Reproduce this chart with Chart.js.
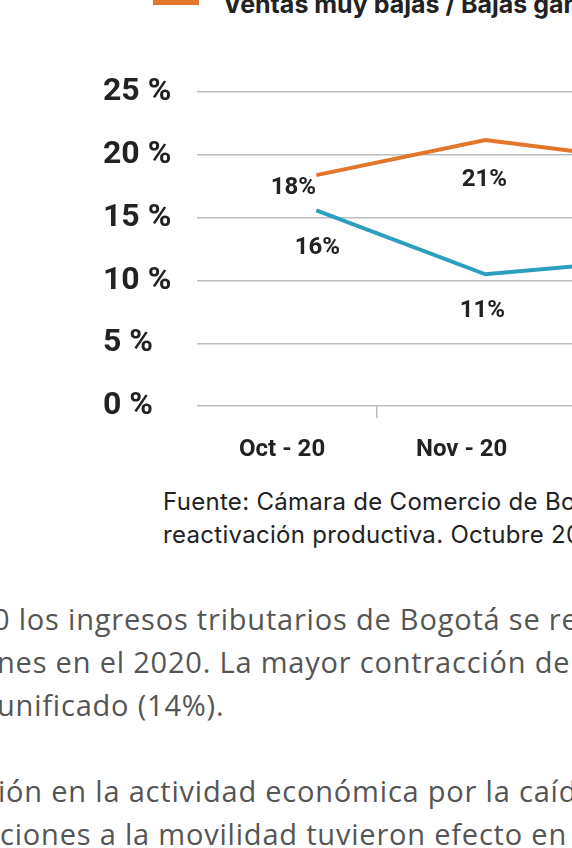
<!DOCTYPE html>
<html lang="es">
<head>
<meta charset="utf-8">
<title>Ventas muy bajas</title>
<script src="https://cdn.jsdelivr.net/npm/chart.js"></script>
<style>
  html, body { margin: 0; padding: 0; }
  body { width: 572px; height: 848px; overflow: hidden; position: relative; background: #fff; font-family: Roboto, sans-serif; }
  .leyenda { position: absolute; left: 153px; top: -8px; white-space: nowrap; }
  .leyenda .caja { position: absolute; left: 0; top: 1px; width: 46px; height: 12px; background: #e3762a; }
  .leyenda .txt { position: absolute; left: 70px; top: 0; font: bold 25px/25px Inter, sans-serif; color: #222; }
  #marco { position: absolute; left: 103px; top: 60px; width: 633px; height: 421px; }
  .fuente { position: absolute; left: 163px; top: 485px; font: 24px/33px Inter, sans-serif; letter-spacing: 0.3px; color: #222; white-space: nowrap; }
  .parrafo { position: absolute; left: 0; top: 597px; font: 29px/43px "Open Sans", sans-serif; letter-spacing: 0.8px; color: #555; white-space: nowrap; }
  .parrafo div { height: 43px; }
</style>
</head>
<body>
<div class="leyenda"><span class="caja"></span><span class="txt">Ventas muy bajas / Bajas ganancias</span></div>
<div id="marco"><canvas id="grafico"></canvas></div>
<div class="fuente">Fuente: Cámara de Comercio de Bogotá. Encuesta de<br>reactivación productiva. Octubre 2020.</div>
<div class="parrafo">
  <div style="margin-left:-7px">0 los ingresos tributarios de Bogotá se redujeron</div>
  <div style="margin-left:-3px">nes en el 2020. La mayor contracción del recaudo</div>
  <div style="margin-left:-3px">unificado (14%).</div>
  <div></div>
  <div style="margin-left:-2px">ión en la actividad económica por la caída</div>
  <div style="margin-left:0">ciones a la movilidad tuvieron efecto en el</div>
</div>
<script>
const meses = ['Oct - 20', 'Nov - 20', 'Dic - 20'];
const ventasMuyBajas = [18.4, 21.2, 19.5];
const serieAzul = [15.6, 10.5, 11.7];
const marcasY = [0, 5, 10, 15, 20, 25];

const naranja = '#e3762a';
const azul = '#2c9ebe';

// desplazamiento de cada etiqueta respecto a su punto
const desplaz = [
  [[-23, 13], [-1, 40], [-5, 40]],
  [[1, 38], [-3, 37], [0, 37]]
];

const etiquetas = {
  id: 'etiquetas',
  afterDatasetsDraw(chart) {
    const ctx = chart.ctx;
    ctx.save();
    ctx.font = 'bold 24px Roboto';
    ctx.fillStyle = '#222';
    ctx.textAlign = 'center';
    ctx.textBaseline = 'middle';
    chart.data.datasets.forEach((ds, d) => {
      chart.getDatasetMeta(d).data.forEach((pt, i) => {
        const o = desplaz[d][i];
        ctx.fillText(Math.round(ds.data[i].y) + '%', pt.x + o[0], pt.y + o[1]);
      });
    });
    ctx.restore();
  }
};

const aPuntos = arr => arr.map((v, i) => ({ x: i, y: v }));

function dibujar() {
  new Chart(document.getElementById('grafico'), {
    type: 'line',
    data: {
      labels: meses,
      datasets: [
        { label: 'Ventas muy bajas / Bajas ganancias', data: aPuntos(ventasMuyBajas), borderColor: naranja, borderWidth: 4, xAxisID: 'xp', pointRadius: 0, tension: 0 },
        { label: 'Serie azul', data: aPuntos(serieAzul), borderColor: azul, borderWidth: 4, xAxisID: 'xp', pointRadius: 0, tension: 0 }
      ]
    },
    options: {
      responsive: true,
      maintainAspectRatio: false,
      animation: false,
      plugins: { legend: { display: false }, tooltip: { enabled: false } },
      layout: { padding: 0 },
      scales: {
        x: {
          type: 'category',
          offset: true,
          border: { display: false },
          grid: {
            offset: true,
            drawOnChartArea: false,
            tickLength: 12,
            lineWidth: 1.5,
            tickColor: c => c.index === 1 ? '#bdbdbd' : 'rgba(0,0,0,0)'
          },
          ticks: { padding: 17, maxRotation: 0, labelOffset: -5, color: '#222', font: { family: 'Roboto', size: 24, weight: 'bold' } }
        },
        // eje oculto para situar los puntos algo a la derecha de las etiquetas
        xp: {
          type: 'linear',
          display: false,
          min: -0.704,
          max: 2.482
        },
        y: {
          min: 0,
          max: 25,
          afterBuildTicks: s => { s.ticks = marcasY.map(v => ({ value: v })); },
          border: { display: false },
          grid: { color: '#bdbdbd', lineWidth: 1.5, drawTicks: false },
          ticks: {
            padding: 13,
            crossAlign: 'far',
            color: '#222',
            font: { family: 'Roboto', size: 32, weight: 'bold' },
            callback: v => v + ' %'
          }
        }
      }
    },
    plugins: [etiquetas]
  });
}

Promise.all([
  document.fonts.load('bold 32px Roboto'),
  document.fonts.load('bold 24px Roboto')
]).then(dibujar, dibujar);
</script>
</body>
</html>
